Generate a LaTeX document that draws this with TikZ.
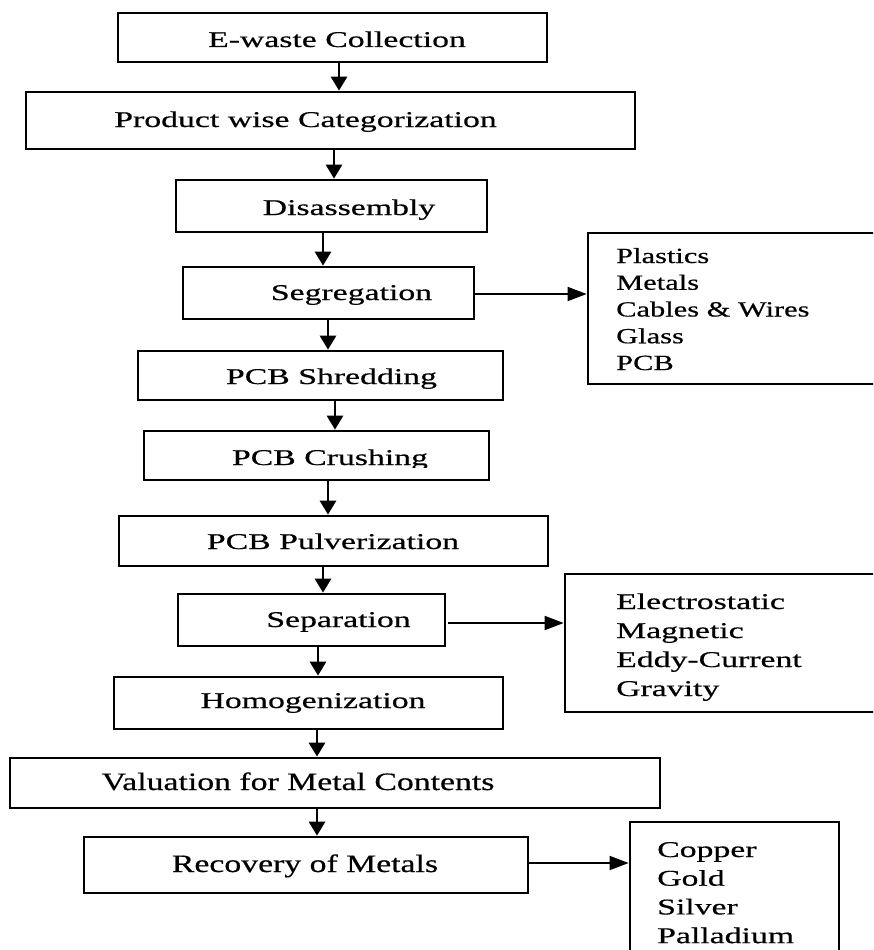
\documentclass[tikz,border=0pt]{standalone}
\usepackage{fontspec}
\setmainfont{Liberation Serif}[FakeStretch=1.5,FakeBold=0.5]
\newfontfamily\valfont{Liberation Serif}[FakeStretch=1.35,FakeBold=0.5]
\newfontfamily\listfont{Liberation Serif}[FakeStretch=1.41,FakeBold=0.5]
\usetikzlibrary{arrows.meta}
\begin{document}
\begin{tikzpicture}[x=1pt,y=-1pt,
  box/.style={draw, line width=2.7pt, inner sep=0pt},
  lbl/.style={anchor=base, inner sep=0pt, font=\fontsize{22.5}{27}\selectfont},
  vlbl/.style={anchor=base, inner sep=0pt, font=\valfont\fontsize{25}{30}\selectfont},
  item/.style={anchor=base west, inner sep=0pt, font=\fontsize{22.5}{27}\selectfont},
  pitem/.style={anchor=base west, inner sep=0pt, font=\listfont\fontsize{21.6}{26}\selectfont},
  varrow/.style={line width=2.8pt, -{Triangle[length=14pt,width=16pt]}},
  harrow/.style={line width=1.8pt, -{Triangle[length=19pt,width=14pt]}}]
\useasboundingbox (0,0) rectangle (873,950);
\clip (0,0) rectangle (873,950);

% main boxes
\node[box, minimum width=429pt, minimum height=49pt] (b1) at (332.5,37.5) {};
\node[box, minimum width=609pt, minimum height=57pt] (b2) at (330.5,120.5) {};
\node[box, minimum width=311pt, minimum height=52pt] (b3) at (331.5,206) {};
\node[box, minimum width=291pt, minimum height=52pt] (b4) at (328.5,293) {};
\node[box, minimum width=365pt, minimum height=49pt] (b5) at (320.5,375.5) {};
\node[box, minimum width=345pt, minimum height=49pt] (b6) at (316.5,455.5) {};
\node[box, minimum width=429pt, minimum height=50pt] (b7) at (333.5,541) {};
\node[box, minimum width=267pt, minimum height=52pt] (b8) at (311.5,620) {};
\node[box, minimum width=389pt, minimum height=52pt] (b9) at (308.5,703) {};
\node[box, minimum width=650pt, minimum height=50pt] (b10) at (335,783) {};
\node[box, minimum width=444pt, minimum height=56pt] (b11) at (306,865) {};

% labels
\node[lbl] (t1) at (337,47) {E-waste Collection};
\node[lbl] (t2) at (305.5,127) {Product wise Categorization};
\node[lbl] (t3) at (349,215) {Disassembly};
\node[lbl] (t4) at (351.5,300) {Segregation};
\node[lbl] (t5) at (331.5,384) {PCB Shredding};
\begin{scope}
\clip (146,433) rectangle (487,467);
\node[lbl] (t6) at (330,465) {PCB Crushing};
\end{scope}
\node[lbl] (t7) at (333,549) {PCB Pulverization};
\node[lbl] (t8) at (338.5,627) {Separation};
\node[lbl] (t9) at (313,708) {Homogenization};
\node[vlbl] (t10) at (298,790) {Valuation for Metal Contents};
\node[vlbl] (t11) at (305,872) {Recovery of Metals};

% side boxes
\node[box, minimum width=287pt, minimum height=151pt] (l1) at (731.5,308.5) {};
\node[box, minimum width=310pt, minimum height=138pt] (l2) at (720,643) {};
\node[box, minimum width=209pt, minimum height=138pt] (l3) at (734.5,891) {};

\foreach \txt [count=\i from 0] in {Plastics, Metals, Cables \& Wires, Glass, PCB}
  \node[pitem] (p\i) at (616,263+26.75*\i) {\txt};
\foreach \txt [count=\i from 0] in {Electrostatic, Magnetic, Eddy-Current, Gravity}
  \node[item] (e\i) at (616,609+29*\i) {\txt};
\foreach \txt [count=\i from 0] in {Copper, Gold, Silver, Palladium}
  \node[item] (c\i) at (657,857+28.7*\i) {\txt};

% vertical arrows
\draw[varrow] (339,0 |- b1.south) -- (339,0 |- b2.north);
\draw[varrow] (334,0 |- b2.south) -- (334,0 |- b3.north);
\draw[varrow] (323,0 |- b3.south) -- (323,0 |- b4.north);
\draw[varrow] (328,0 |- b4.south) -- (328,0 |- b5.north);
\draw[varrow] (335,0 |- b5.south) -- (335,0 |- b6.north);
\draw[varrow] (328,0 |- b6.south) -- (328,0 |- b7.north);
\draw[varrow] (323,0 |- b7.south) -- (323,0 |- b8.north);
\draw[varrow] (318,0 |- b8.south) -- (318,0 |- b9.north);
\draw[varrow] (317,0 |- b9.south) -- (317,0 |- b10.north);
\draw[varrow] (317,0 |- b10.south) -- (317,0 |- b11.north);

% horizontal arrows
\coordinate (s4) at ([yshift=-1pt]b4.east);
\draw[harrow] (s4) -- (l1.west |- s4);
\coordinate (s8) at ([shift={(2pt,-3pt)}]b8.east);
\draw[harrow] (s8) -- (l2.west |- s8);
\coordinate (s11) at ([yshift=2pt]b11.east);
\draw[harrow] (s11) -- (l3.west |- s11);
\end{tikzpicture}
\end{document}
